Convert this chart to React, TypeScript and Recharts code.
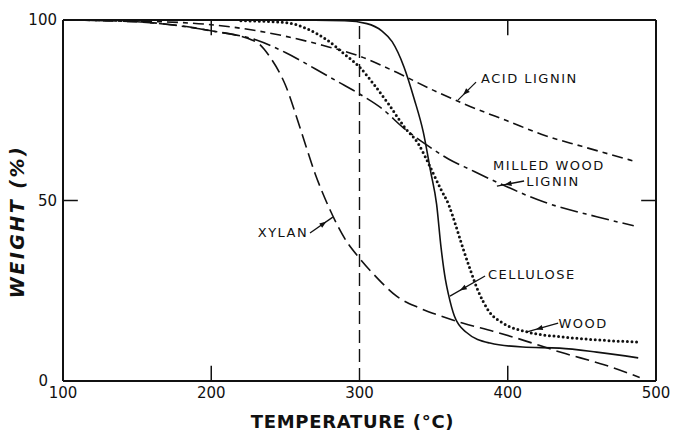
import { LineChart, Line, XAxis, YAxis, ReferenceLine, ReferenceDot, Label } from 'recharts'

// thermogravimetric curves, temperature (°C) vs weight remaining (%)
const celluloseTemp = [100, 250, 290, 305, 315, 322, 330, 337, 343, 348, 352, 355, 358, 360, 364, 372, 388, 410, 435, 460, 488]
const celluloseWt = [100, 100, 99.8, 99, 97, 94, 87, 78, 69, 58, 49, 37, 28, 24, 18, 13.5, 10.5, 9.4, 9.1, 8, 6.4]

const woodTemp = [220, 250, 265, 278, 290, 300, 310, 320, 330, 340, 348, 355, 360, 365, 370, 375, 380, 387, 397, 413, 437, 460, 487]
const woodWt = [99.8, 99.3, 97.5, 94.5, 90.5, 87, 82, 76.5, 70.5, 65.5, 59, 53, 49, 43, 36.5, 30.5, 25, 19.5, 16, 13.6, 12.2, 11.4, 10.8]

const acidLigninTemp = [100, 150, 200, 250, 275, 300, 325, 350, 375, 400, 425, 450, 487]
const acidLigninWt = [100, 99.7, 98.7, 95.5, 93, 90, 85.5, 80.5, 76, 72, 68, 65, 60.7]

const milledLigninTemp = [100, 150, 200, 230, 250, 270, 285, 300, 315, 330, 345, 360, 375, 393, 425, 460, 485]
const milledLigninWt = [100, 99.5, 97, 94.5, 91, 86.5, 83, 79.5, 75.5, 70, 65.5, 61.5, 58.5, 55, 49.5, 45.5, 43]

const xylanTemp = [100, 150, 200, 230, 240, 250, 260, 270, 280, 290, 300, 312, 325, 340, 355, 370, 390, 405, 437, 465, 489]
const xylanWt = [100, 99.5, 97, 94, 89.5, 82, 70, 57.5, 47.5, 39.5, 34, 28.5, 23.5, 20.3, 18, 16, 13.8, 12, 7.8, 4.5, 1]

const xTicks = [100, 200, 300, 400, 500]
const yTicks = [0, 50, 100]

const INK = '#111'
const FONT = '"DejaVu Sans", sans-serif'

const pts = (t: number[], w: number[]) => t.map((x, i) => ({ x, y: w[i] }))

const series = [
  { key: 'cellulose', data: pts(celluloseTemp, celluloseWt), dash: undefined, width: 1.6, cap: 'butt' },
  { key: 'wood', data: pts(woodTemp, woodWt), dash: '0 4.6', width: 3, cap: 'round' },
  { key: 'acid', data: pts(acidLigninTemp, acidLigninWt), dash: '11 5 5 5', width: 1.6, cap: 'butt' },
  { key: 'milled', data: pts(milledLigninTemp, milledLigninWt), dash: '18 5 4 5', width: 1.6, cap: 'butt' },
  { key: 'xylan', data: pts(xylanTemp, xylanWt), dash: '14 6', width: 1.6, cap: 'butt' },
]

// curve labels and their leader arrows
const notes = [
  { text: 'ACID LIGNIN', x: 382, y: 83.7, anchor: 'start' },
  { text: 'MILLED WOOD', x: 427.8, y: 59.6, anchor: 'middle' },
  { text: 'LIGNIN', x: 430.5, y: 55.4, anchor: 'middle' },
  { text: 'XYLAN', x: 248.4, y: 41, anchor: 'middle' },
  { text: 'CELLULOSE', x: 386.7, y: 29.6, anchor: 'start' },
  { text: 'WOOD', x: 450.8, y: 16, anchor: 'middle' },
]
const leaders = [
  { from: [378.6, 82.8], to: [366.4, 77.8] },
  { from: [411, 55.4], to: [392.7, 54] },
  { from: [266.6, 41], to: [282, 45.4] },
  { from: [384.7, 29.1], to: [361, 23.5] },
  { from: [434, 16], to: [413, 13.6] },
]

function Leader(props: any) {
  const { x1, y1, x2, y2 } = props
  const dx = x2 - x1
  const dy = y2 - y1
  const len = Math.hypot(dx, dy) || 1
  const ux = dx / len
  const uy = dy / len
  const tx = x1 + dx * 0.72
  const ty = y1 + dy * 0.72
  const bx = tx - ux * 7
  const by = ty - uy * 7
  const px = -uy * 2.6
  const py = ux * 2.6
  return (
    <g>
      <line x1={x1} y1={y1} x2={x2} y2={y2} stroke={INK} strokeWidth={1.3} />
      <polygon points={`${tx},${ty} ${bx + px},${by + py} ${bx - px},${by - py}`} fill={INK} />
    </g>
  )
}

// y tick labels; the "0" sits a little further left so it clears the x "100"
function YTick({ x, y, payload }: any) {
  const shift = payload.value === 0 ? -9 : 0
  return (
    <text x={x + shift} y={y} textAnchor="end" dominantBaseline="central" fill={INK} style={{ fontFamily: FONT, fontSize: 15 }}>
      {payload.value}
    </text>
  )
}

export default function App() {
  return (
    <div style={{ position: 'absolute', left: 0, top: 0, background: '#fff' }}>
      <LineChart width={674} height={432} margin={{ top: 20, right: 18, bottom: 21, left: 3 }}>
        <XAxis
          type="number"
          dataKey="x"
          domain={[100, 500]}
          ticks={xTicks}
          allowDataOverflow
          height={30}
          tickLine={false}
          tickSize={0}
          tickMargin={6}
          axisLine={{ stroke: INK, strokeWidth: 2 }}
          tick={{ fill: INK, fontSize: 15, fontFamily: FONT }}
        >
          <Label
            content={({ viewBox }: any) => (
              <text
                x={viewBox.x + viewBox.width / 2 - 7}
                y={viewBox.y + 47}
                textAnchor="middle"
                fill={INK}
                style={{ fontFamily: FONT, fontSize: 18, fontWeight: 600, letterSpacing: 0.7 }}
              >
                TEMPERATURE (°C)
              </text>
            )}
          />
        </XAxis>
        <YAxis
          type="number"
          dataKey="y"
          domain={[0, 100]}
          ticks={yTicks}
          allowDataOverflow
          width={60}
          tickLine={false}
          tickSize={0}
          tickMargin={6}
          axisLine={{ stroke: INK, strokeWidth: 2 }}
          tick={<YTick />}
        >
          <Label
            content={({ viewBox }: any) => {
              const cx = viewBox.x + 14
              const cy = viewBox.y + viewBox.height / 2 + 21
              return (
                <text
                  x={cx}
                  y={cy}
                  transform={`rotate(-90 ${cx} ${cy})`}
                  textAnchor="middle"
                  dominantBaseline="central"
                  fill={INK}
                  style={{ fontFamily: FONT, fontSize: 19, fontWeight: 700, fontStyle: 'italic', letterSpacing: 2.5 }}
                >
                  WEIGHT (%)
                </text>
              )
            }}
          />
        </YAxis>

        {/* frame and inside ticks */}
        <ReferenceLine y={100} stroke={INK} strokeWidth={2} />
        <ReferenceLine x={500} stroke={INK} strokeWidth={2} />
        <ReferenceLine x={300} stroke={INK} strokeWidth={1.4} strokeDasharray="13 6" />
        {[200, 400].map(t => (
          <ReferenceLine key={'b' + t} segment={[{ x: t, y: 0 }, { x: t, y: 4.2 }]} stroke={INK} strokeWidth={1.5} />
        ))}
        {[200, 400].map(t => (
          <ReferenceLine key={'t' + t} segment={[{ x: t, y: 100 }, { x: t, y: 95.8 }]} stroke={INK} strokeWidth={1.5} />
        ))}
        <ReferenceLine segment={[{ x: 100, y: 50 }, { x: 110, y: 50 }]} stroke={INK} strokeWidth={1.5} />
        <ReferenceLine segment={[{ x: 490, y: 50 }, { x: 500, y: 50 }]} stroke={INK} strokeWidth={1.5} />

        {series.map(s => (
          <Line
            key={s.key}
            data={s.data}
            dataKey="y"
            type="monotone"
            stroke={INK}
            strokeWidth={s.width}
            strokeDasharray={s.dash}
            strokeLinecap={s.cap as any}
            dot={false}
            activeDot={false}
            isAnimationActive={false}
          />
        ))}

        {leaders.map((l, i) => (
          <ReferenceLine
            key={'l' + i}
            segment={[{ x: l.from[0], y: l.from[1] }, { x: l.to[0], y: l.to[1] }]}
            shape={<Leader />}
          />
        ))}
        {notes.map(n => (
          <ReferenceDot
            key={n.text}
            x={n.x}
            y={n.y}
            shape={(p: any) => (
              <text
                x={p.cx}
                y={p.cy}
                textAnchor={n.anchor as any}
                dominantBaseline="central"
                fill={INK}
                style={{ fontFamily: FONT, fontSize: 13, letterSpacing: 1.5 }}
              >
                {n.text}
              </text>
            )}
          />
        ))}
      </LineChart>
    </div>
  )
}
